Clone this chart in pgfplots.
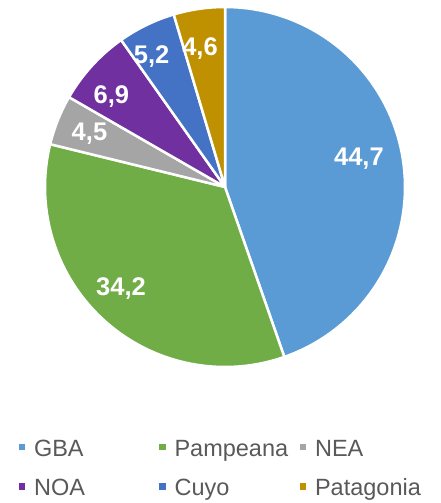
\documentclass[border=0pt]{standalone}
\usepackage{pgfplots}
\pgfplotsset{compat=1.18}
\usepackage{pgfplotstable}
\usepackage{fontspec}
\setmainfont{Liberation Sans}
\definecolor{cGBA}{HTML}{5B9BD5}
\definecolor{cPam}{HTML}{70AD47}
\definecolor{cNEA}{HTML}{A5A5A5}
\definecolor{cNOA}{HTML}{7030A0}
\definecolor{cCuyo}{HTML}{4472C4}
\definecolor{cPat}{HTML}{BF9000}
\definecolor{legtext}{HTML}{595959}
\newcommand\lblfont{\fontsize{25.5}{30}\selectfont\bfseries}
\newcommand\legfont{\fontsize{23.5}{28.2}\selectfont}
\newcommand\legent[1]{\makebox[125pt][l]{\strut #1}}
\newcommand\legsq[1]{\path[fill=#1, draw=none, line width=0pt] (0pt,-3.3pt) rectangle (6.8pt,3.5pt); \path[draw=none, fill=none] (0pt,0pt) -- (15.5pt,0pt);}

\pgfplotstableread{
region value
GBA 44.7
Pampeana 34.2
NEA 4.5
NOA 6.9
Cuyo 5.2
Patagonia 4.6
}\piedata

\begin{document}
\pgfplotstablegetelem{0}{value}\of\piedata\pgfmathsetmacro\vA{\pgfplotsretval}%
\pgfplotstablegetelem{1}{value}\of\piedata\pgfmathsetmacro\vB{\pgfplotsretval}%
\pgfplotstablegetelem{2}{value}\of\piedata\pgfmathsetmacro\vC{\pgfplotsretval}%
\pgfplotstablegetelem{3}{value}\of\piedata\pgfmathsetmacro\vD{\pgfplotsretval}%
\pgfplotstablegetelem{4}{value}\of\piedata\pgfmathsetmacro\vE{\pgfplotsretval}%
\pgfplotstablegetelem{5}{value}\of\piedata\pgfmathsetmacro\vF{\pgfplotsretval}%
\pgfmathsetmacro\tot{\vA+\vB+\vC+\vD+\vE+\vF}%
\pgfmathsetmacro\aA{90}%
\pgfmathsetmacro\aB{\aA-360*\vA/\tot}%
\pgfmathsetmacro\aC{\aB-360*\vB/\tot}%
\pgfmathsetmacro\aD{\aC-360*\vC/\tot}%
\pgfmathsetmacro\aE{\aD-360*\vD/\tot}%
\pgfmathsetmacro\aF{\aE-360*\vE/\tot}%
\pgfmathsetmacro\aG{\aF-360*\vF/\tot}%
\begin{tikzpicture}
\path (0pt,0pt) rectangle (430pt,503pt);
\begin{axis}[
  at={(45pt,136pt)}, anchor=south west,
  scale only axis, width=360pt, height=360pt,
  xmin=-1, xmax=1, ymin=-1, ymax=1,
  hide axis, clip=false,
  legend columns=3,
  legend cell align=left,
  legend style={at={(axis description cs:-0.0735,-0.193)}, anchor=north west,
    draw=none, fill=none, inner sep=0pt, outer sep=0pt,
    nodes={inner sep=0pt, outer sep=0pt, text=legtext},
    font=\legfont, row sep=18.5pt, column sep=0pt},
]
\addplot[fill=cGBA, draw=white, line width=2.5pt, line join=round, domain=\aB:\aA, samples=90, variable=\t, legend image code/.code={\legsq{cGBA}}] ({cos(\t)},{sin(\t)}) -- (axis cs:0,0) -- cycle;
\addlegendentry{\legent{GBA}}
\addplot[fill=cPam, draw=white, line width=2.5pt, line join=round, domain=\aC:\aB, samples=90, variable=\t, legend image code/.code={\legsq{cPam}}] ({cos(\t)},{sin(\t)}) -- (axis cs:0,0) -- cycle;
\addlegendentry{\legent{Pampeana}}
\addplot[fill=cNEA, draw=white, line width=2.5pt, line join=round, domain=\aD:\aC, samples=20, variable=\t, legend image code/.code={\legsq{cNEA}}] ({cos(\t)},{sin(\t)}) -- (axis cs:0,0) -- cycle;
\addlegendentry{\legent{NEA}}
\addplot[fill=cNOA, draw=white, line width=2.5pt, line join=round, domain=\aE:\aD, samples=20, variable=\t, legend image code/.code={\legsq{cNOA}}] ({cos(\t)},{sin(\t)}) -- (axis cs:0,0) -- cycle;
\addlegendentry{\legent{NOA}}
\addplot[fill=cCuyo, draw=white, line width=2.5pt, line join=round, domain=\aF:\aE, samples=20, variable=\t, legend image code/.code={\legsq{cCuyo}}] ({cos(\t)},{sin(\t)}) -- (axis cs:0,0) -- cycle;
\addlegendentry{\legent{Cuyo}}
\addplot[fill=cPat, draw=white, line width=2.5pt, line join=round, domain=\aG:\aF, samples=20, variable=\t, legend image code/.code={\legsq{cPat}}] ({cos(\t)},{sin(\t)}) -- (axis cs:0,0) -- cycle;
\addlegendentry{\legent{Patagonia}}
\node[font=\lblfont, text=white, anchor=base] at (axis cs:0.744,0.122) {44,7};
\node[font=\lblfont, text=white, anchor=base] at (axis cs:-0.578,-0.601) {34,2};
\node[font=\lblfont, text=white, anchor=base] at (axis cs:-0.753,0.261) {4,5};
\node[font=\lblfont, text=white, anchor=base] at (axis cs:-0.631,0.466) {6,9};
\node[font=\lblfont, text=white, anchor=base] at (axis cs:-0.408,0.688) {5,2};
\node[font=\lblfont, text=white, anchor=base] at (axis cs:-0.139,0.733) {4,6};
\end{axis}
\end{tikzpicture}
\end{document}
